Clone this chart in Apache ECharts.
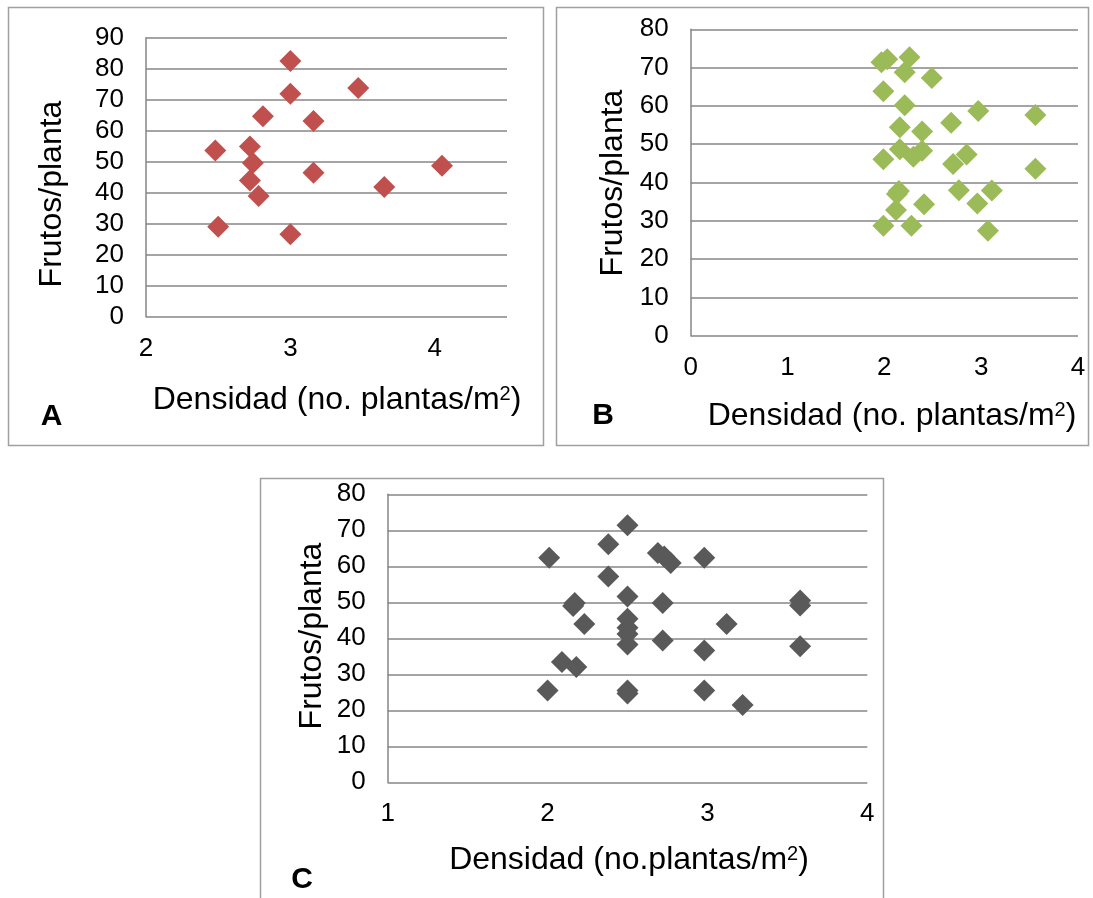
<!DOCTYPE html>
<html>
<head>
<meta charset="utf-8">
<script src="https://cdn.jsdelivr.net/npm/echarts@6/dist/echarts.min.js"></script>
<style>
html,body{margin:0;padding:0;background:#fff;}
#chart{width:1093px;height:898px;}
</style>
</head>
<body>
<div id="chart"></div>
<script>
// ---- data ----
const aX = [3.00, 3.00, 3.47, 2.81, 3.16, 2.48, 2.72, 2.74, 3.16, 4.05, 2.72, 3.65, 2.78, 2.50, 3.00];
const aY = [82.5, 71.9, 73.8, 64.7, 63.1, 53.6, 54.9, 49.6, 46.4, 48.7, 43.9, 41.8, 38.9, 29.0, 26.6];

const bX = [1.97, 2.03, 2.26, 2.21, 2.49, 1.99, 2.21, 2.97, 3.56, 2.69, 2.16, 2.39, 2.16, 2.39, 2.30,
            1.99, 2.85, 2.71, 3.56, 2.13, 2.15, 2.77, 3.11, 2.12, 2.41, 2.96, 1.99, 2.28, 3.07];
const bY = [71.4, 72.2, 72.7, 68.8, 67.3, 63.8, 60.2, 58.7, 57.6, 55.6, 54.4, 53.3, 48.7, 48.3, 46.7,
            46.1, 47.3, 44.8, 43.6, 37.0, 37.8, 38.0, 37.9, 32.8, 34.3, 34.5, 28.7, 28.7, 27.4];

const cX = [2.50, 2.38, 2.69, 2.73, 2.77, 2.01, 2.98, 2.38, 2.50, 2.17, 2.16, 2.72, 3.58, 3.58, 2.23,
            2.50, 2.50, 2.50, 2.50, 2.72, 3.12, 2.98, 3.58, 2.09, 2.18, 2.00, 2.50, 2.50, 2.98, 3.22];
const cY = [71.4, 66.1, 63.7, 62.7, 60.9, 62.4, 62.4, 57.2, 51.6, 49.8, 49.0, 49.8, 50.5, 49.1, 44.0,
            45.4, 42.9, 41.2, 38.3, 39.4, 44.0, 36.6, 37.8, 33.4, 32.0, 25.5, 25.5, 24.7, 25.5, 21.5];

const yTitle = 'Frutos/planta';
const xTitleAB = 'Densidad (no. plantas/m{s|2})';
const xTitleC = 'Densidad (no.plantas/m{s|2})';
const panelLetters = ['A', 'B', 'C'];

// ---- chart ----
const FONT = 'Liberation Sans';
const GRID_COLOR = '#868686';
const pair = (xs, ys) => xs.map((x, i) => [x, ys[i]]);

function xAxis(idx, min, max) {
  return {
    type: 'value', gridIndex: idx, min: min, max: max, interval: 1,
    axisLine: {show: false}, axisTick: {show: false}, splitLine: {show: false},
    axisLabel: {
      fontFamily: FONT, fontSize: 26, color: '#000', margin: 19,
      formatter: v => Number.isInteger(v) ? String(v) : ''
    }
  };
}
function yAxis(idx, max) {
  return {
    type: 'value', gridIndex: idx, min: 0, max: max, interval: 10,
    axisLine: {show: true, onZero: false, lineStyle: {color: GRID_COLOR, width: 1.5}},
    axisTick: {show: false},
    splitLine: {show: true, lineStyle: {color: GRID_COLOR, width: 1.5}},
    axisLabel: {fontFamily: FONT, fontSize: 26, color: '#000', margin: 22}
  };
}
function scatter(idx, data, color) {
  return {
    type: 'scatter', xAxisIndex: idx, yAxisIndex: idx, data: data,
    symbol: 'diamond', symbolSize: 22,
    itemStyle: {color: color, opacity: 1}
  };
}
function titleText(x, y, text, rotate) {
  return {
    type: 'text', x: x, y: y, rotation: rotate ? Math.PI / 2 : 0,
    style: {
      text: text, fontFamily: FONT, fontSize: 32, fill: '#000',
      align: 'center', verticalAlign: 'middle',
      rich: {s: {fontFamily: FONT, fontSize: 20, verticalAlign: 'top', fill: '#000', padding: [0, 0, 12, 0]}}
    }
  };
}
function letter(x, y, t) {
  return {
    type: 'text', x: x, y: y,
    style: {text: t, fontFamily: FONT, fontSize: 30, fontWeight: 'bold', fill: '#000',
            align: 'center', verticalAlign: 'middle'}
  };
}
function border(x1, y1, x2, y2) {
  return {
    type: 'rect', shape: {x: x1, y: y1, width: x2 - x1, height: y2 - y1},
    style: {fill: 'none', stroke: '#a0a0a0', lineWidth: 1.5}, z: -1
  };
}

const chart = echarts.init(document.getElementById('chart'), null, {renderer: 'canvas'});
chart.setOption({
  animation: false,
  backgroundColor: '#fff',
  grid: [
    {left: 146, top: 37.7, width: 361, height: 279},
    {left: 690.7, top: 29.3, width: 387.3, height: 306.4},
    {left: 387.7, top: 494.3, width: 479.6, height: 288}
  ],
  xAxis: [xAxis(0, 2, 4.5), xAxis(1, 0, 4), xAxis(2, 1, 4)],
  yAxis: [yAxis(0, 90), yAxis(1, 80), yAxis(2, 80)],
  series: [
    scatter(0, pair(aX, aY), '#c0504d'),
    scatter(1, pair(bX, bY), '#9bbb59'),
    scatter(2, pair(cX, cY), '#595959')
  ],
  graphic: [
    border(8.5, 7.5, 543.5, 445.5),
    border(556.5, 7.5, 1088.5, 445.5),
    border(260.5, 478.5, 883.5, 905),
    titleText(52, 194, yTitle, true),
    titleText(613, 183, yTitle, true),
    titleText(312, 636, yTitle, true),
    titleText(337, 400, xTitleAB, false),
    titleText(892, 416, xTitleAB, false),
    titleText(629, 860, xTitleC, false),
    letter(51.5, 417, panelLetters[0]),
    letter(603, 416, panelLetters[1]),
    letter(302, 880, panelLetters[2])
  ]
});
</script>
</body>
</html>
